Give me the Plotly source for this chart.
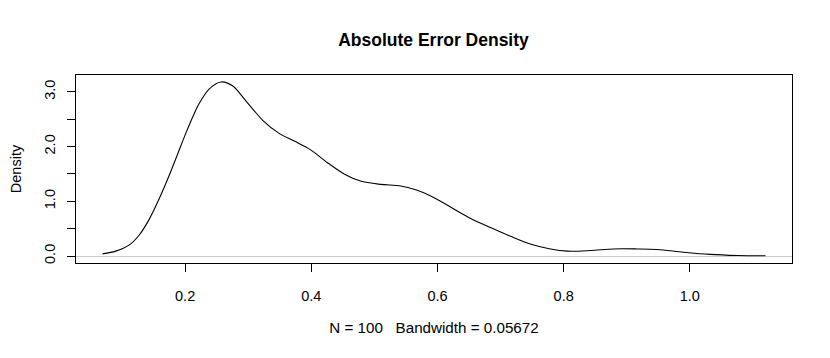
import plotly.graph_objects as go

# density curve (kernel density estimate, N = 100)
density_x = [
    0.069, 0.090, 0.111, 0.127, 0.143, 0.159, 0.175, 0.190, 0.201, 0.212,
    0.222, 0.238, 0.257, 0.275, 0.296, 0.323, 0.349, 0.373, 0.399, 0.425,
    0.452, 0.478, 0.510, 0.542, 0.568, 0.594, 0.626, 0.652, 0.684, 0.716,
    0.747, 0.779, 0.806, 0.842, 0.879, 0.916, 0.948, 0.990, 1.032, 1.075,
    1.120,
]
density_y = [
    0.04, 0.09, 0.20, 0.38, 0.67, 1.05, 1.48, 1.92, 2.24, 2.54,
    2.78, 3.05, 3.18, 3.11, 2.84, 2.48, 2.24, 2.10, 1.94, 1.71,
    1.50, 1.37, 1.31, 1.28, 1.20, 1.07, 0.86, 0.69, 0.52, 0.36,
    0.22, 0.13, 0.09, 0.10, 0.13, 0.13, 0.12, 0.07, 0.03, 0.01,
    0.005,
]

x_ticks = [0.2, 0.4, 0.6, 0.8, 1.0]
x_tick_text = ["0.2", "0.4", "0.6", "0.8", "1.0"]
y_ticks = [0.0, 0.5, 1.0, 1.5, 2.0, 2.5, 3.0]
y_tick_text = ["0.0", "", "1.0", "", "2.0", "", "3.0"]

title_text = "Absolute Error Density"
x_title = "N = 100   Bandwidth = 0.05672"
y_title = "Density"

font_family = "Liberation Sans, Arial, Helvetica, sans-serif"

# the page body adds an 8px offset, so margins are shifted to compensate
fig = go.Figure()
fig.add_trace(
    go.Scatter(
        x=density_x,
        y=density_y,
        mode="lines",
        line=dict(color="black", width=1.1, shape="spline", smoothing=0.9),
        showlegend=False,
        hoverinfo="skip",
    )
)

fig.update_layout(
    width=830,
    height=358,
    margin=dict(l=68, r=46, t=67, b=103),
    paper_bgcolor="white",
    plot_bgcolor="white",
    font=dict(family=font_family, size=14.5, color="black"),
    title=dict(
        text=f"<b>{title_text}</b>",
        x=425.5 / 830,
        xanchor="center",
        y=1 - 32 / 358,
        yanchor="middle",
        font=dict(size=17.5, color="black"),
    ),
)

fig.update_xaxes(
    range=[0.027, 1.162],
    tickvals=x_ticks,
    ticktext=x_tick_text,
    ticks="outside",
    ticklen=8,
    tickcolor="black",
    ticklabelstandoff=12,
    showgrid=False,
    zeroline=False,
    showline=True,
    linecolor="black",
    linewidth=1,
    mirror=True,
    automargin=False,
    title=dict(text=x_title, standoff=18, font=dict(size=15.2)),
)

fig.update_yaxes(
    range=[-0.127, 3.307],
    tickvals=y_ticks,
    ticktext=y_tick_text,
    tickangle=-90,
    ticks="outside",
    ticklen=8,
    tickcolor="black",
    ticklabelstandoff=6,
    showgrid=False,
    zeroline=True,
    zerolinecolor="#cfcfcf",
    zerolinewidth=1,
    showline=True,
    linecolor="black",
    linewidth=1,
    mirror=True,
    automargin=False,
    title=dict(text=y_title, standoff=22, font=dict(size=14.5)),
)

fig.write_html("out.html")
